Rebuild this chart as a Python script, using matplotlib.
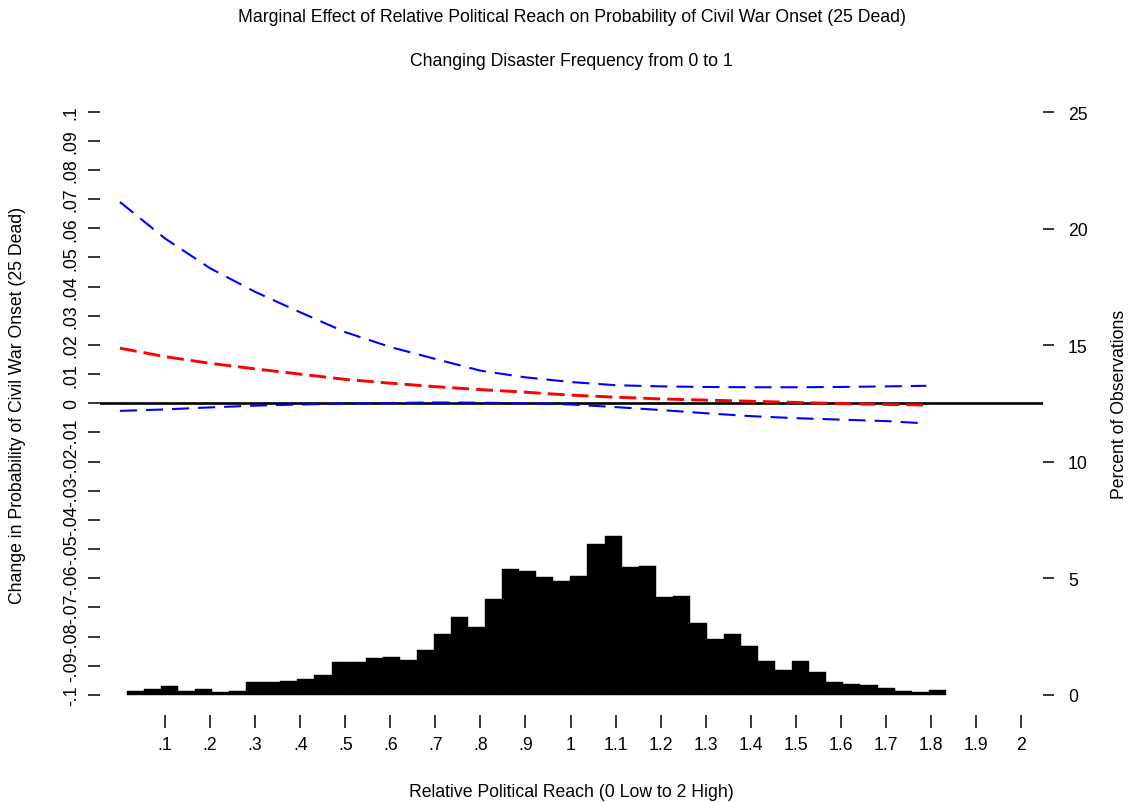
import numpy as np
import matplotlib
matplotlib.use("Agg")
import matplotlib.pyplot as plt

plt.rcParams['font.family'] = ['Liberation Sans', 'DejaVu Sans']

# ---- data ----
reach = [0.0, 0.1, 0.2, 0.3, 0.4, 0.5, 0.6, 0.7, 0.8, 0.9, 1.0,
         1.1, 1.2, 1.3, 1.4, 1.5, 1.6, 1.7, 1.79]
effect = [0.0189, 0.0160, 0.0137, 0.0118, 0.0100, 0.0082, 0.0069, 0.0057,
          0.0047, 0.0038, 0.0028, 0.0021, 0.0015, 0.0011, 0.0007, 0.0003,
          -0.0001, -0.0004, -0.0006]
upper_ci = [0.0690, 0.0565, 0.0463, 0.0382, 0.0312, 0.0244, 0.0193, 0.0152,
            0.0112, 0.0089, 0.0073, 0.0062, 0.0058, 0.0056, 0.0055, 0.0055,
            0.0056, 0.0058, 0.0060]
lower_ci = [-0.0026, -0.0021, -0.0014, -0.0008, -0.0004, -0.0001, 0.0001,
            0.0003, 0.0002, 0.0000, -0.0004, -0.0013, -0.0023, -0.0034,
            -0.0044, -0.0051, -0.0056, -0.0061, -0.0069]

hist_min, hist_max = 0.015, 1.833
hist_pct = [0.19, 0.27, 0.37, 0.19, 0.27, 0.15, 0.19, 0.54, 0.54, 0.59,
            0.70, 0.86, 1.42, 1.42, 1.57, 1.62, 1.49, 1.93, 2.60, 3.33,
            2.93, 4.12, 5.39, 5.32, 5.08, 4.87, 5.11, 6.47, 6.81, 5.47,
            5.55, 4.19, 4.26, 3.08, 2.40, 2.60, 2.09, 1.45, 1.09, 1.45,
            1.00, 0.57, 0.46, 0.42, 0.30, 0.19, 0.12, 0.23]

x_ticks = [0.1, 0.2, 0.3, 0.4, 0.5, 0.6, 0.7, 0.8, 0.9, 1.0,
           1.1, 1.2, 1.3, 1.4, 1.5, 1.6, 1.7, 1.8, 1.9, 2.0]
x_ticklabels = ['.1', '.2', '.3', '.4', '.5', '.6', '.7', '.8', '.9', '1',
                '1.1', '1.2', '1.3', '1.4', '1.5', '1.6', '1.7', '1.8', '1.9', '2']
y_ticks = [-0.1, -0.09, -0.08, -0.07, -0.06, -0.05, -0.04, -0.03, -0.02, -0.01,
           0.0, 0.01, 0.02, 0.03, 0.04, 0.05, 0.06, 0.07, 0.08, 0.09, 0.1]
y_ticklabels = ['-.1', '-.09', '-.08', '-.07', '-.06', '-.05', '-.04', '-.03',
                '-.02', '-.01', '0', '.01', '.02', '.03', '.04', '.05', '.06',
                '.07', '.08', '.09', '.1']
pct_ticks = [0, 5, 10, 15, 20, 25]

title = "Marginal Effect of Relative Political Reach on Probability of Civil War Onset (25 Dead)"
subtitle = "Changing Disaster Frequency from 0 to 1"
xlabel = "Relative Political Reach (0 Low to 2 High)"
ylabel = "Change in Probability of Civil War Onset (25 Dead)"
ylabel2 = "Percent of Observations"

FS = 12.7

# ---- figure ----
W, H = 1130, 803
fig = plt.figure(figsize=(W / 100, H / 100), dpi=100)
L, R, T, B = 100, 1043, 90, 716
ax = fig.add_axes([L / W, 1 - B / H, (R - L) / W, (B - T) / H])
ax2 = ax.twinx()
ax.set_zorder(2)
ax.patch.set_visible(False)

x0_px, per_unit = 120.0, 450.5
ax.set_xlim((L - x0_px) / per_unit, (R - x0_px) / per_unit)
y0_px, ypu = 404.3, 2917.0
ax.set_ylim((y0_px - B) / ypu, (y0_px - T) / ypu)
p0_px, ppu = 696.0, 23.32
ax2.set_ylim((p0_px - B) / ppu, (p0_px - T) / ppu)

# histogram
edges = np.linspace(hist_min, hist_max, len(hist_pct) + 1)
ax2.bar(edges[:-1], hist_pct, width=np.diff(edges), align='edge',
        color='black', edgecolor='black', linewidth=0.3)

# lines
ax.axhline(0, color='black', lw=1.9, zorder=2)
ax.plot(reach, upper_ci, color='blue', lw=1.5, dashes=(8.2, 4.3), zorder=3)
ax.plot(reach, lower_ci, color='blue', lw=1.5, dashes=(8.2, 4.3), zorder=3)
ax.plot(reach, effect, color='red', lw=2.1, dashes=(5.8, 2.4), zorder=3)

for a in (ax, ax2):
    for s in a.spines.values():
        s.set_visible(False)

ax.set_xticks(x_ticks)
ax.set_xticklabels(x_ticklabels, fontsize=FS)
ax.tick_params(axis='x', length=9.0, width=1.1, pad=6)
ax.set_yticks(y_ticks)
ax.set_yticklabels(y_ticklabels, fontsize=FS, rotation=90, va='center')
ax.tick_params(axis='y', length=8.5, width=1.1, pad=6)

ax2.set_yticks(pct_ticks)
ax2.set_yticklabels([str(v) for v in pct_ticks], fontsize=FS)
ax2.tick_params(axis='y', length=8, width=1.1, pad=10)

fig.text(571.5 / W, 1 - 18 / H, title, ha='center', va='center', fontsize=FS)
fig.text(571.5 / W, 1 - 61 / H, subtitle, ha='center', va='center', fontsize=FS)
fig.text(571.5 / W, 1 - 793 / H, xlabel, ha='center', va='center', fontsize=FS)
fig.text(18 / W, 1 - 405 / H, ylabel, ha='center', va='center', rotation=90, fontsize=FS)
fig.text(1120 / W, 1 - 404 / H, ylabel2, ha='center', va='center', rotation=90, fontsize=FS)

fig.savefig("out.png", dpi=100)
